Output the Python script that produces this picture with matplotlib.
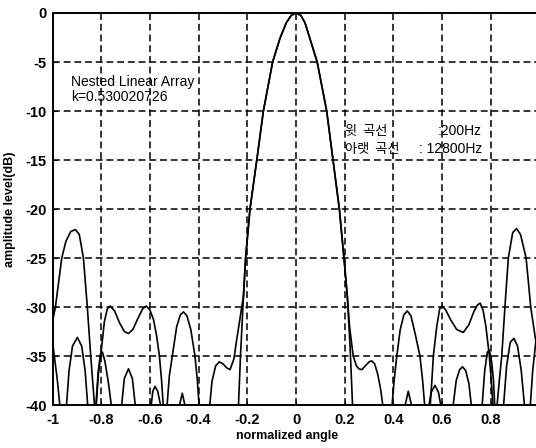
import matplotlib
matplotlib.use("Agg")
import matplotlib.pyplot as plt

plt.rcParams['font.family'] = ['Liberation Sans', 'DejaVu Sans']
plt.rcParams['axes.unicode_minus'] = False

# upper curve (200Hz)
u_x = [-1.0, -0.988, -0.962, -0.945, -0.925, -0.906, -0.89, -0.873, -0.857, -0.843, -0.826,
       -0.823, -0.812, -0.80, -0.787, -0.775, -0.763, -0.745, -0.725, -0.705, -0.688, -0.67,
       -0.65, -0.63, -0.615, -0.6, -0.585, -0.572, -0.561, -0.552, -0.544, -0.538,
       -0.531, -0.52, -0.508, -0.49, -0.475, -0.462, -0.448, -0.432, -0.415, -0.405, -0.397, -0.375,
       -0.356, -0.345, -0.33, -0.315, -0.3, -0.285, -0.271, -0.255, -0.244, -0.232, -0.223,
       -0.216, -0.207, -0.189, -0.161, -0.134, -0.096, -0.066, -0.04, -0.02, 0.0,
       0.02, 0.037, 0.057, 0.087, 0.126, 0.152, 0.178, 0.197, 0.211,
       0.22, 0.235, 0.248, 0.258, 0.27, 0.285, 0.3, 0.311, 0.323, 0.335, 0.347, 0.359, 0.375,
       0.393, 0.403, 0.414, 0.428, 0.443, 0.457, 0.472, 0.49, 0.509, 0.52, 0.53, 0.54,
       0.55, 0.558, 0.564, 0.578, 0.59, 0.6, 0.615, 0.635, 0.66, 0.687, 0.71, 0.73, 0.745,
       0.756, 0.768, 0.78, 0.794, 0.802, 0.81, 0.817,
       0.824, 0.835, 0.845, 0.858, 0.872, 0.89, 0.906, 0.922, 0.945, 0.964, 0.986, 1.0]
u_db = [-31.5, -30.0, -25.0, -23.3, -22.3, -22.1, -22.6, -25.0, -30.0, -35.0, -40.5,
        -41.0, -37.0, -34.5, -31.5, -30.2, -29.9, -30.4, -31.6, -32.5, -32.7, -32.3,
        -31.2, -30.2, -29.9, -30.3, -31.3, -33.0, -35.0, -37.5, -40.5, -45.0,
        -40.5, -37.0, -35.0, -32.0, -30.8, -30.5, -30.9, -32.3, -35.0, -37.5, -40.5, -48.0,
        -40.5, -37.6, -36.0, -35.6, -35.8, -36.2, -36.4, -35.3, -33.4, -31.5, -30.0,
        -29.0, -25.0, -20.0, -15.0, -10.0, -5.0, -2.6, -1.0, -0.25, 0.0,
        -0.25, -1.0, -2.6, -5.0, -10.0, -15.0, -20.0, -25.0, -29.0,
        -32.0, -35.0, -36.0, -36.3, -36.4, -36.0, -35.6, -35.5, -35.8, -36.8, -38.3, -40.5, -48.0,
        -40.5, -37.5, -35.0, -32.3, -30.8, -30.4, -30.9, -32.8, -35.0, -37.5, -40.5, -44.0,
        -40.5, -37.5, -35.0, -32.0, -30.2, -29.9, -30.3, -31.3, -32.3, -32.6, -31.8, -30.5, -29.8,
        -29.6, -30.3, -32.0, -35.0, -37.5, -40.5, -43.0,
        -40.5, -37.5, -35.0, -30.0, -25.0, -22.4, -22.0, -22.6, -25.0, -30.0, -33.7, -37.0]

# lower curve (12800Hz)
l_x = [-1.0, -0.99, -0.98, -0.968, -0.956,
       -0.944, -0.932, -0.918, -0.898, -0.88, -0.866, -0.854, -0.84,
       -0.823, -0.812, -0.803, -0.795, -0.785, -0.77, -0.756, -0.738,
       -0.718, -0.705, -0.688, -0.672, -0.658, -0.63,
       -0.597, -0.588, -0.579, -0.568, -0.552, -0.52,
       -0.483, -0.467, -0.452, -0.35,
       -0.237, -0.228,
       -0.216, -0.207, -0.189, -0.161, -0.134, -0.096, -0.066, -0.04, -0.02, 0.0,
       0.02, 0.037, 0.057, 0.087, 0.126, 0.152, 0.178, 0.197, 0.211,
       0.222, 0.233, 0.33,
       0.444, 0.461, 0.479, 0.51,
       0.543, 0.555, 0.571, 0.585, 0.598, 0.62,
       0.643, 0.658, 0.672, 0.684, 0.697, 0.71, 0.722, 0.742,
       0.763, 0.775, 0.786, 0.794, 0.803, 0.811, 0.817, 0.834,
       0.851, 0.865, 0.88, 0.895, 0.91, 0.925, 0.94, 0.95,
       0.961, 0.972, 0.985, 1.0]
l_db = [-33.5, -35.5, -37.5, -40.5, -46.0,
        -40.5, -36.5, -34.0, -33.1, -34.0, -36.5, -40.5, -46.0,
        -40.5, -36.5, -34.8, -34.6, -35.5, -37.8, -40.5, -46.0,
        -40.5, -37.3, -36.3, -37.3, -40.5, -46.0,
        -40.5, -38.6, -38.1, -38.6, -40.5, -46.0,
        -40.5, -38.8, -40.5, -48.0,
        -40.5, -35.0,
        -29.0, -25.0, -20.0, -15.0, -10.0, -5.0, -2.6, -1.0, -0.25, 0.0,
        -0.25, -1.0, -2.6, -5.0, -10.0, -15.0, -20.0, -25.0, -29.0,
        -34.0, -40.5, -48.0,
        -40.5, -38.6, -40.5, -46.0,
        -40.5, -38.7, -38.0, -38.7, -40.5, -46.0,
        -40.5, -37.5, -36.4, -36.1, -36.5, -37.8, -40.5, -46.0,
        -40.5, -36.5, -34.6, -34.4, -35.5, -37.5, -40.5, -46.0,
        -40.5, -36.0, -33.6, -33.2, -34.0, -36.5, -40.5, -46.0,
        -40.5, -36.5, -33.5, -32.0]

x_ticks = [-1, -0.8, -0.6, -0.4, -0.2, 0, 0.2, 0.4, 0.6, 0.8, 1]
x_tick_labels = ['-1', '-0.8', '-0.6', '-0.4', '-0.2', '0', '0.2', '0.4', '0.6', '0.8', '1']
y_ticks = [0, -5, -10, -15, -20, -25, -30, -35, -40]

fig = plt.figure(figsize=(5.36, 4.48), dpi=100)
ax = fig.add_axes([52.5 / 536, 43 / 448, 487 / 536, 392 / 448])

ax.plot(u_x, u_db, color='black', lw=1.2)
ax.plot(l_x, l_db, color='black', lw=1.2)

ax.set_xlim(-1, 1)
ax.set_ylim(-40, 0)
ax.set_xticks(x_ticks)
ax.set_xticklabels(x_tick_labels)
ax.set_yticks(y_ticks)
ax.grid(True, color='black', linestyle=(0, (4.5, 2.5)), linewidth=1.1)
ax.tick_params(direction='in', length=3, labelsize=10.5, pad=6, colors='black')
ax.tick_params(axis='y', pad=4)
for lab in ax.get_xticklabels() + ax.get_yticklabels():
    lab.set_fontweight('bold')
for sp in ax.spines.values():
    sp.set_linewidth(1.4)

ax.set_xlabel('normalized angle', fontsize=9, fontweight='bold', labelpad=2)
ax.xaxis.set_label_coords(0.4815, -0.065)
ax.set_ylabel('amplitude level(dB)', fontsize=9, fontweight='bold')
ax.yaxis.set_label_coords(-0.075, 0.5)

ax.text(-0.925, -7.45, 'Nested Linear Array', fontsize=10, va='baseline')
ax.text(-0.925, -9.0, 'k=0.530020726', fontsize=10, va='baseline')

kr = ['Noto Sans CJK KR', 'DejaVu Sans']
ax.text(0.201, -12.45, '윗  곡선', fontsize=9.5, va='baseline', family=kr)
ax.text(0.201, -14.3, '아랫  곡선', fontsize=9.5, va='baseline', family=kr)
ax.text(0.763, -12.45, ':200Hz', fontsize=10, va='baseline', ha='right')
ax.text(0.763, -14.3, ': 12800Hz', fontsize=10, va='baseline', ha='right')

fig.savefig('out.png', dpi=100, facecolor='white')
